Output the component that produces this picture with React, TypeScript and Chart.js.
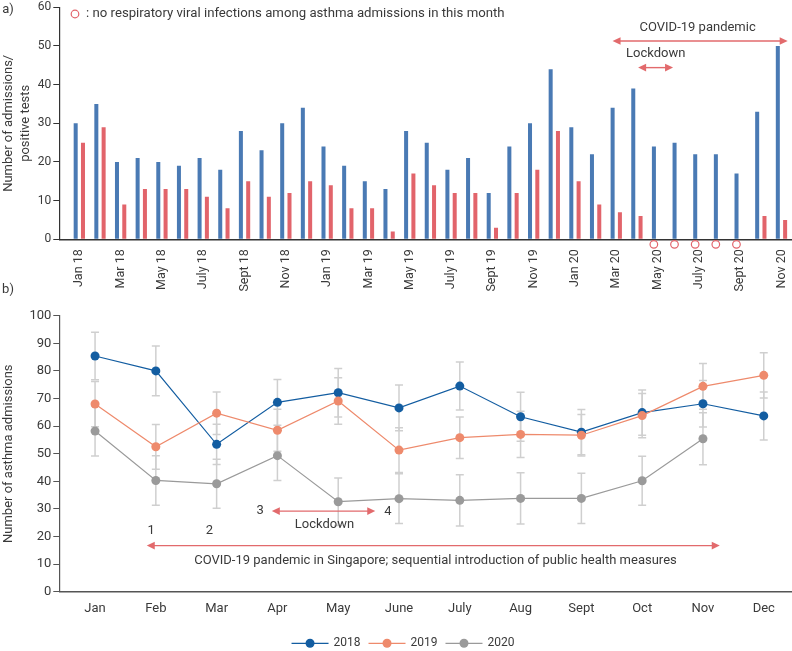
import React, { useEffect, useRef } from 'react';
import { Chart, registerables } from 'chart.js';
Chart.register(...registerables);

const FONT = 'Roboto, "DejaVu Sans", sans-serif';
const TEXT = '#3a3a3a';
const BLUE = '#4a7ab4';
const RED = '#e2646b';
const ARROW = '#e26a6c';
const ERR = '#cfcfcf';

// ---------- Panel a data ----------
const monthsA = ['Jan 18','Feb 18','Mar 18','Apr 18','May 18','June 18','July 18','Aug 18','Sept 18','Oct 18','Nov 18','Dec 18',
  'Jan 19','Feb 19','Mar 19','Apr 19','May 19','June 19','July 19','Aug 19','Sept 19','Oct 19','Nov 19','Dec 19',
  'Jan 20','Feb 20','Mar 20','Apr 20','May 20','June 20','July 20','Aug 20','Sept 20','Oct 20','Nov 20'];
const admissions = [30,35,20,21,20,19,21,18,28,23,30,34,24,19,15,13,28,25,18,21,12,24,30,44,29,22,34,39,24,25,22,22,17,33,50];
const positiveTests = [25,29,9,13,13,13,11,8,15,11,12,15,14,8,8,2,17,14,12,12,3,12,18,28,15,9,7,6,0,0,0,0,0,6,5];
const noInfectionMonths = ['May 20','June 20','July 20','Aug 20','Sept 20'];
const yTicksA = [0,10,20,30,40,50,60];

// ---------- Panel b data ----------
const monthsB = ['Jan','Feb','Mar','Apr','May','June','July','Aug','Sept','Oct','Nov','Dec'];
const years = ['2018','2019','2020'];
const adm2018 = [85.4,80.0,53.4,68.6,72.1,66.6,74.5,63.4,57.8,64.9,68.1,63.7];
const adm2019 = [68.0,52.5,64.7,58.5,69.1,51.3,55.8,57.0,56.7,63.8,74.4,78.4];
const adm2020 = [58.2,40.3,39.1,49.3,32.6,33.7,33.1,33.8,33.8,40.2,55.4];
const err2018 = [8.6,9.0,7.3,8.3,8.8,8.3,8.7,8.9,8.2,8.2,8.4,8.7];
const err2019 = [8.2,8.1,7.7,7.6,8.4,8.1,7.5,8.4,7.5,8.0,8.3,8.2];
const err2020 = [9.0,9.0,8.9,9.0,8.6,9.0,9.3,9.3,9.1,8.9,9.4];
const colorsB = ['#135da1','#ee8a6c','#9a9a9a'];

const zeroPad = (s: any) => { s.paddingLeft = 0; s.paddingRight = 0; s.paddingTop = 0; s.paddingBottom = 0; };

function text(ctx: CanvasRenderingContext2D, s: string, x: number, y: number, size = 13, align: CanvasTextAlign = 'center') {
  ctx.save();
  ctx.font = `${size}px ${FONT}`;
  ctx.fillStyle = TEXT;
  ctx.textAlign = align;
  ctx.textBaseline = 'middle';
  ctx.fillText(s, x, y);
  ctx.restore();
}

function arrow(ctx: CanvasRenderingContext2D, x1: number, x2: number, y: number, left: boolean, right: boolean) {
  const hl = 8, hw = 3.8;
  ctx.save();
  ctx.strokeStyle = ARROW;
  ctx.fillStyle = ARROW;
  ctx.lineWidth = 1.4;
  ctx.beginPath();
  ctx.moveTo(x1 + (left ? hl - 1 : 0), y);
  ctx.lineTo(x2 - (right ? hl - 1 : 0), y);
  ctx.stroke();
  if (left) {
    ctx.beginPath(); ctx.moveTo(x1, y); ctx.lineTo(x1 + hl, y - hw); ctx.lineTo(x1 + hl, y + hw); ctx.closePath(); ctx.fill();
  }
  if (right) {
    ctx.beginPath(); ctx.moveTo(x2, y); ctx.lineTo(x2 - hl, y - hw); ctx.lineTo(x2 - hl, y + hw); ctx.closePath(); ctx.fill();
  }
  ctx.restore();
}

const annotA = {
  id: 'annotA',
  afterDraw(chart: any) {
    const { ctx, scales: { x, y } } = chart;
    const X = (v: number) => x.getPixelForValue(v);
    const Y = (v: number) => y.getPixelForValue(v);
    text(ctx, 'a)', 8, 10, 13);
    ctx.save();
    ctx.beginPath();
    ctx.arc(75, 14, 3.8, 0, Math.PI * 2);
    ctx.strokeStyle = RED; ctx.lineWidth = 1.2; ctx.stroke();
    ctx.restore();
    text(ctx, ': no respiratory viral infections among asthma admissions in this month', 86, 14, 13.2, 'left');
    arrow(ctx, X(26.82), X(35.3), Y(51.3), true, true);
    text(ctx, 'COVID-19 pandemic', X(30.94), Y(54.8));
    arrow(ctx, X(28.06), X(29.75), Y(44.4), true, true);
    text(ctx, 'Lockdown', X(28.91), Y(48.1));
  }
};

const errPlugin = {
  id: 'errbars',
  beforeDatasetsDraw(chart: any) {
    const { ctx, scales: { x, y } } = chart;
    const series = [[adm2020, err2020], [adm2019, err2019], [adm2018, err2018]];
    ctx.save();
    ctx.strokeStyle = ERR;
    ctx.lineWidth = 1.5;
    series.forEach(([vals, errs]) => {
      vals.forEach((v: number, i: number) => {
        const px = x.getPixelForValue(i);
        const t = y.getPixelForValue(v + errs[i]);
        const b = y.getPixelForValue(v - errs[i]);
        ctx.beginPath();
        ctx.moveTo(px, t); ctx.lineTo(px, b);
        ctx.moveTo(px - 4, t); ctx.lineTo(px + 4, t);
        ctx.moveTo(px - 4, b); ctx.lineTo(px + 4, b);
        ctx.stroke();
      });
    });
    ctx.restore();
  }
};

const annotB = {
  id: 'annotB',
  afterDraw(chart: any) {
    const { ctx, scales: { x, y } } = chart;
    const X = (v: number) => x.getPixelForValue(v);
    const Y = (v: number) => y.getPixelForValue(v);
    text(ctx, 'b)', 8, 10, 13);
    text(ctx, '1', X(0.921), Y(22.0));
    text(ctx, '2', X(1.881), Y(22.0));
    text(ctx, '3', X(2.716), Y(29.2));
    text(ctx, '4', X(4.818), Y(29.0));
    arrow(ctx, X(2.908), X(4.609), Y(29.2), true, true);
    text(ctx, 'Lockdown', X(3.774), Y(24.4));
    arrow(ctx, X(0.851), X(10.276), Y(16.7), true, true);
    text(ctx, 'COVID-19 pandemic in Singapore; sequential introduction of public health measures', X(5.6), Y(11.1));
    ctx.save();
    ctx.font = `12px ${FONT}`;
    const lineW = 37, gapT = 5, gapI = 8;
    const widths = years.map(s => ctx.measureText(s).width);
    const total = widths.reduce((a, w) => a + lineW + gapT + w, 0) + gapI * (years.length - 1);
    let cx = 403 - total / 2;
    const ly = 363.3;
    years.forEach((s, i) => {
      ctx.strokeStyle = colorsB[i];
      ctx.fillStyle = colorsB[i];
      ctx.lineWidth = 1.2;
      ctx.beginPath(); ctx.moveTo(cx, ly); ctx.lineTo(cx + lineW, ly); ctx.stroke();
      ctx.beginPath(); ctx.arc(cx + lineW / 2, ly, 4.5, 0, Math.PI * 2); ctx.fill();
      ctx.fillStyle = TEXT;
      ctx.textAlign = 'left';
      ctx.textBaseline = 'middle';
      ctx.fillText(s, cx + lineW + gapT, ly);
      cx += lineW + gapT + widths[i] + gapI;
    });
    ctx.restore();
  }
};

const WA = 797;
const WB = 797;

export default function App() {
  const refA = useRef<HTMLCanvasElement>(null);
  const refB = useRef<HTMLCanvasElement>(null);

  useEffect(() => {
    const chartA = new Chart(refA.current!, {
      type: 'bar',
      data: {
        datasets: [
          { label: 'Admissions', data: admissions.map((v, i) => ({ x: i + 1, y: v })), backgroundColor: BLUE, borderWidth: 0 },
          { label: 'Positive tests', data: positiveTests.map((v, i) => ({ x: i + 1, y: v })), backgroundColor: RED, borderWidth: 0 },
          {
            type: 'scatter', label: 'No respiratory viral infections',
            data: noInfectionMonths.map(m => ({ x: monthsA.indexOf(m) + 1 - 0.18, y: -1.3 })),
            pointStyle: 'circle', pointRadius: 3.8, borderColor: RED, backgroundColor: '#ffffff', borderWidth: 1.2, clip: false,
          } as any,
        ],
      },
      options: {
        animation: false,
        responsive: false,
        devicePixelRatio: 1,
        layout: { padding: { top: 7.3, right: 0, left: 0, bottom: 0 } },
        datasets: { bar: { categoryPercentage: 0.707, barPercentage: 0.55 } } as any,
        scales: {
          x: {
            type: 'linear', min: 0.03, max: 35.5, offset: false,
            afterBuildTicks: (s: any) => { s.ticks = monthsA.map((_, i) => ({ value: i + 1 })).filter((_, i) => i % 2 === 0); },
            afterFit: (s: any) => { s.height = 60.7; zeroPad(s); },
            ticks: { callback: (v: any) => monthsA[Number(v) - 1] ?? '', maxRotation: 90, minRotation: 90, autoSkip: false, padding: 10, font: { family: FONT, size: 12.5 }, color: TEXT },
            grid: { display: false, drawTicks: false },
            border: { display: true, color: '#333', width: 1.5 },
          },
          y: {
            min: 0, max: 60,
            afterBuildTicks: (s: any) => { s.ticks = yTicksA.map(v => ({ value: v })); },
            afterFit: (s: any) => { s.width = 59.3; zeroPad(s); },
            ticks: { padding: 2, font: { family: FONT, size: 12 }, color: TEXT },
            grid: { drawOnChartArea: false, drawTicks: true, tickLength: 6, color: '#333' },
            border: { display: true, color: '#333', width: 1.2 },
            title: { display: true, text: ['Number of admissions/', 'positive tests'], font: { family: FONT, size: 13, lineHeight: 1.3 }, color: TEXT, padding: { top: 0, bottom: 0 } },
          },
        },
        plugins: { legend: { display: false }, tooltip: { enabled: false } },
      } as any,
      plugins: [annotA],
    });

    const seriesB = [adm2018, adm2019, adm2020];
    const chartB = new Chart(refB.current!, {
      type: 'line',
      data: {
        datasets: seriesB.map((vals, k) => ({
          label: years[k],
          data: vals.map((v, i) => ({ x: i, y: v })),
          borderColor: colorsB[k],
          backgroundColor: colorsB[k],
          pointBackgroundColor: colorsB[k],
          pointBorderWidth: 0,
          pointRadius: 4.5,
          borderWidth: 1.2,
          order: k === 1 ? 0 : k === 0 ? 1 : 2,
        })),
      },
      options: {
        animation: false,
        responsive: false,
        devicePixelRatio: 1,
        layout: { padding: { top: 35.7, right: 0, left: 0, bottom: 0 } },
        scales: {
          x: {
            type: 'linear', min: -0.588, max: 11.473, offset: false,
            afterBuildTicks: (s: any) => { s.ticks = monthsB.map((_, i) => ({ value: i })); },
            afterFit: (s: any) => { s.height = 59.3; zeroPad(s); },
            ticks: { callback: (v: any) => monthsB[Number(v)] ?? '', maxRotation: 0, minRotation: 0, autoSkip: false, padding: 9, font: { family: FONT, size: 13 }, color: TEXT },
            grid: { display: false, drawTicks: false },
            border: { display: true, color: '#555', width: 1.5 },
          },
          y: {
            min: 0, max: 100,
            ticks: { stepSize: 10, padding: 2, font: { family: FONT, size: 13 }, color: TEXT },
            afterFit: (s: any) => { s.width = 59.3; zeroPad(s); },
            grid: { drawOnChartArea: false, drawTicks: true, tickLength: 6, color: '#555' },
            border: { display: true, color: '#555', width: 1.2 },
            title: { display: true, text: 'Number of asthma admissions', font: { family: FONT, size: 13, lineHeight: 1.3 }, color: TEXT, padding: { top: 0, bottom: 0 } },
          },
        },
        plugins: { legend: { display: false }, tooltip: { enabled: false } },
      } as any,
      plugins: [errPlugin, annotB],
    });

    return () => { chartA.destroy(); chartB.destroy(); };
  }, []);

  return (
    <div style={{ position: 'absolute', left: 0, top: 0, width: 792, height: 651, background: '#fff', overflow: 'hidden' }}>
      <canvas ref={refA} width={WA} height={300} style={{ position: 'absolute', left: 0, top: 0, width: WA, height: 300 }} />
      <canvas ref={refB} width={WB} height={371} style={{ position: 'absolute', left: 0, top: 280, width: WB, height: 371 }} />
    </div>
  );
}
